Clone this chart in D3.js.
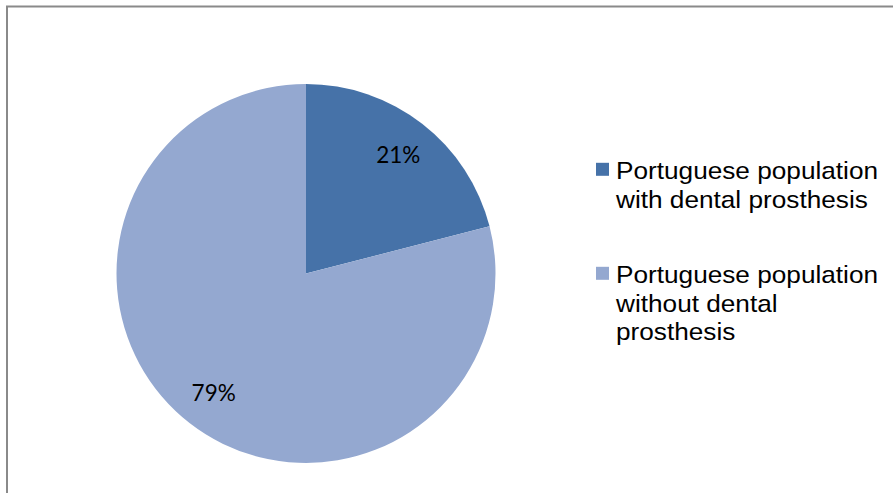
<!DOCTYPE html>
<html>
<head>
<meta charset="utf-8">
<script src="https://cdn.jsdelivr.net/npm/d3@7/dist/d3.min.js"></script>
<style>
  html, body { margin: 0; padding: 0; background: #fff; }
  svg { display: block; }
</style>
</head>
<body>
<svg id="chart" width="893" height="493"></svg>
<script>
// Share of the Portuguese population with / without dental prosthesis
const categories = [
  ["Portuguese population", "with dental prosthesis"],
  ["Portuguese population", "without dental", "prosthesis"]
];
const values = [21, 79];
const valueLabels = ["21%", "79%"];
const colors = ["#4672A8", "#94A8D0"];

const svg = d3.select("#chart");

// frame (top and left edges)
svg.append("path")
  .attr("d", "M7,493 L7,6.5 L893,6.5")
  .attr("fill", "none")
  .attr("stroke", "#8a8a8a")
  .attr("stroke-width", 2);

const cx = 306, cy = 273.5, r = 189.5;
const pie = d3.pie().sort(null).value(d => d);
const arcs = pie(values);
const arc = d3.arc().innerRadius(0).outerRadius(r);
const labelArc = d3.arc().innerRadius(r * 0.795).outerRadius(r * 0.795);

const g = svg.append("g").attr("transform", `translate(${cx},${cy})`);
g.selectAll("path.slice")
  .data(arcs)
  .join("path")
  .attr("class", "slice")
  .attr("d", arc)
  .attr("fill", (d, i) => colors[i]);

// value labels, placed along each slice's bisector
g.selectAll("text.val")
  .data(arcs)
  .join("text")
  .attr("class", "val")
  .attr("transform", d => `translate(${labelArc.centroid(d)})`)
  .attr("text-anchor", "middle")
  .attr("dy", "0.36em")
  .attr("font-family", "Lato, Carlito, 'Open Sans', sans-serif")
  .attr("font-size", 22.5)
  .attr("fill", "#000")
  .text((d, i) => valueLabels[i]);

// legend
const legendBase = [179.3, 283.3];
const lineH = 28.4;
const legend = svg.append("g");
categories.forEach((lines, i) => {
  legend.append("rect")
    .attr("x", 596).attr("y", legendBase[i] - 16.5)
    .attr("width", 13).attr("height", 13)
    .attr("fill", colors[i]);
  const t = legend.append("text")
    .attr("transform", "translate(616,0) scale(1.11,1)")
    .attr("font-family", "'Liberation Sans', Arial, sans-serif")
    .attr("font-size", 23.6)
    .attr("fill", "#000");
  lines.forEach((ln, j) => {
    t.append("tspan").attr("x", 0).attr("y", legendBase[i] + j * lineH).text(ln);
  });
});
</script>
</body>
</html>
